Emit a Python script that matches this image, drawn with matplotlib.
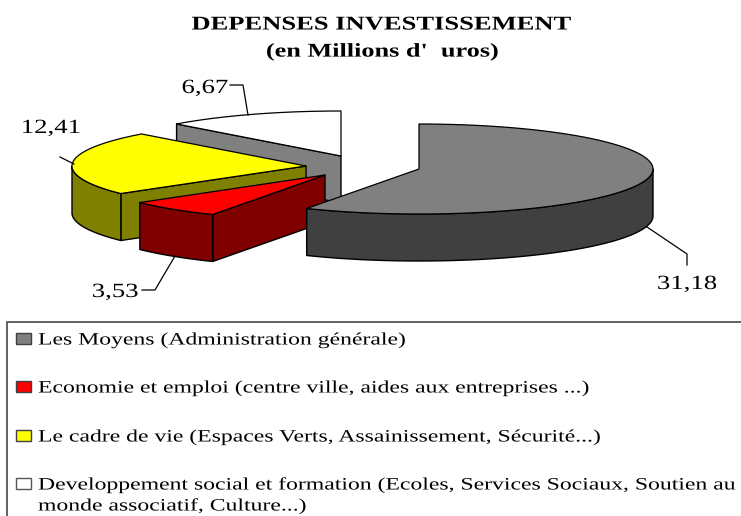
import numpy as np
import matplotlib
matplotlib.use("Agg")
import matplotlib.pyplot as plt
from matplotlib.patches import Polygon, Rectangle
from matplotlib.patheffects import AbstractPathEffect
from matplotlib.transforms import Affine2D

plt.rcParams['font.family'] = ['Liberation Serif', 'DejaVu Serif']

# --- data ---
categories = ["Les Moyens (Administration générale)",
              "Economie et emploi (centre ville, aides aux entreprises ...)",
              "Le cadre de vie (Espaces Verts, Assainissement, Sécurité...)",
              "Developpement social et formation (Ecoles, Services Sociaux, Soutien au",
              ]
category_continuation = "monde associatif, Culture...)"
values = [31.18, 3.53, 12.41, 6.67]
value_labels = ["31,18", "3,53", "12,41", "6,67"]
title_lines = ["DEPENSES INVESTISSEMENT", "(en Millions d'  uros)"]

# --- styles and layout (pixels) ---
top_colors = ["#808080", "#FF0000", "#FFFF00", "#FFFFFF"]
side_colors = ["#404040", "#800000", "#808000", "#808080"]
centers = [(419, 169), (325, 175), (306, 166), (341, 156)]
RX, RY, DEPTH = 234, 45, 47
TEXT_DY = 1.5


class StretchX(AbstractPathEffect):
    """Widen a text horizontally around a fixed x, as in the source image."""
    def __init__(self, k, x0):
        super().__init__()
        self.k, self.x0 = k, x0

    def draw_path(self, renderer, gc, tpath, affine, rgbFace=None):
        t = Affine2D().translate(-self.x0, 0).scale(self.k, 1).translate(self.x0, 0)
        renderer.draw_path(gc, tpath, affine + t, rgbFace)


def stext(x, y, s, k, **kw):
    ax.text(x, y + TEXT_DY, s, va="center", color="black", zorder=8,
            path_effects=[StretchX(k, x)], **kw)


fig = plt.figure(figsize=(7.41, 5.16), dpi=100)
ax = fig.add_axes([0, 0, 1, 1])
ax.set_xlim(0, 741)
ax.set_ylim(516, 0)
ax.axis("off")

fractions = np.array(values) / sum(values) * 360
ends = np.cumsum(fractions)
starts = ends - fractions


def rim(c, a0, a1, n=80):
    t = np.radians(np.linspace(a0, a1, n))
    return np.column_stack([c[0] + RX * np.sin(t), c[1] - RY * np.cos(t)])


def wall(pts, color, z):
    pts = np.asarray(pts, dtype=float)
    poly = np.vstack([pts, (pts + [0, DEPTH])[::-1]])
    ax.add_patch(Polygon(poly, closed=True, fc=color, ec="black", lw=1.0,
                         joinstyle="round", zorder=z))


def slice3d(i, z):
    c, a0, a1 = centers[i], starts[i], ends[i]
    if 180 < a0 < 360:  # the cut face at the start angle looks to the viewer
        wall([rim(c, a0, a0, 1)[0], c], side_colors[i], z)
    lo, hi = max(a0, 90), min(a1, 270)
    if lo < hi:
        wall(rim(c, lo, hi), side_colors[i], z + 0.1)
    poly = np.vstack([[c], rim(c, a0, a1)])
    ax.add_patch(Polygon(poly, closed=True, fc=top_colors[i], ec="black", lw=0.9,
                         joinstyle="round", zorder=z + 0.2))


# back to front
for idx, z in zip([3, 2, 1, 0], [1, 2, 3, 4]):
    slice3d(idx, z)

# value labels and leaders
label_pos = [(687, 283), (115, 291), (51, 127), (205, 87)]
leaders = [
    [(647, 227), (687, 254), (687, 265)],
    [(142, 290), (155, 290), (175, 256)],
    [(60, 157), (74, 164)],
    [(230, 85), (243, 85), (248, 115)],
]
for txt, pos, line in zip(value_labels, label_pos, leaders):
    stext(pos[0], pos[1], txt, 1.33, fontsize=14.5, ha="center")
    line = np.array(line)
    ax.plot(line[:, 0], line[:, 1], color="black", lw=0.9, zorder=6)

# title
stext(382, 23.5, title_lines[0], 1.365, fontsize=14, fontweight="bold", ha="center")
stext(383, 50.5, title_lines[1], 1.35, fontsize=14, fontweight="bold", ha="center")

# legend box
ax.add_patch(Rectangle((7, 322), 800, 300, fc="white", ec="#555555", lw=1.3, zorder=0.5))
rows = [339, 387, 436, 484]
for cat, col, y in zip(categories, top_colors, rows):
    ax.add_patch(Rectangle((16, y - 6), 14.5, 11, fc=col,
                           ec="#404040" if col != "#FFFFFF" else "#555555", lw=1.0, zorder=7))
    stext(38, y, cat, 1.365, fontsize=12.5, ha="left")
stext(38, rows[3] + 21, category_continuation, 1.365, fontsize=12.5, ha="left")

fig.savefig("out.png", dpi=100)
